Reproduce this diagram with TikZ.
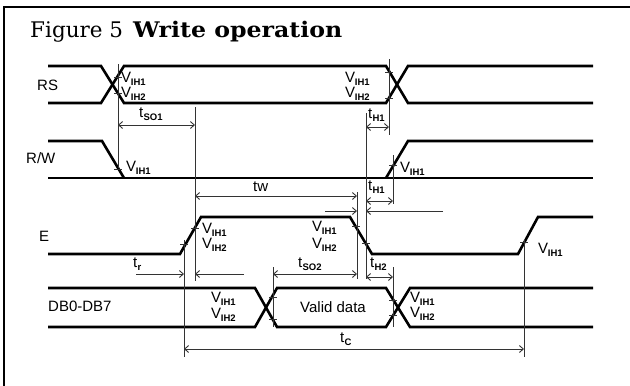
\documentclass[tikz,border=0pt]{standalone}
\usepackage{fontspec}
\setmainfont{Liberation Sans}
\newfontfamily\mytitlefont{DejaVu Serif}
\usetikzlibrary{arrows.meta}
\newcommand{\myVih}[1]{V\kern-0.3pt\raisebox{-3.8pt}{\fontsize{9.5}{9.5}\selectfont\bfseries IH#1}}
\newcommand{\myTsub}[1]{t\kern0.2pt\raisebox{-3.8pt}{\fontsize{9.5}{9.5}\selectfont\bfseries #1}}
\newcommand{\mytick}[2]{\draw[tickln] ({#1-4},#2) -- ({#1+4},#2);}
\begin{document}
\begin{tikzpicture}[x=1pt,y=-1pt,
  sig/.style={line width=2.6pt},
  refln/.style={line width=0.9pt, draw=black!80},
  tickln/.style={line width=0.9pt, draw=black!80},
  dimln/.style={line width=0.9pt, draw=black!80},
  bar/.tip={Straight Barb[length=4pt,width=7pt]},
  lbl/.style={anchor=base west, inner sep=0pt, font=\fontsize{15}{15}\selectfont},
  ttl/.style={anchor=base west, inner sep=0pt, font=\mytitlefont\fontsize{21.5}{21.5}\selectfont}]
\useasboundingbox (0,0) rectangle (630,386);
% frame
\draw[line width=2pt] (4,386) -- (4,7) -- (630,7);
\node[ttl] (t1) at (30,37) {Figure 5};
\node[ttl] (t2) at (133,37) {\scalebox{1.1}[1]{\bfseries Write operation}};
% signal names
\node[lbl] (nRS) at (37,90) {RS};
\node[lbl] (nRW) at (26,163) {R/W};
\node[lbl] (nE) at (39,241) {E};
\node[lbl] (nDB) at (48,311) {DB0-DB7};
% RS
\draw[sig] (48,66) -- (101,66) -- (124,103) -- (386,103) -- (408,66) -- (593,66);
\draw[sig] (48,103) -- (101,103) -- (124,66) -- (386,66) -- (408,103) -- (593,103);
% R/W
\draw[sig] (48,141) -- (102,141) -- (124,178);
\draw[sig] (48,178) -- (593,178);
\draw[sig] (386,178) -- (408,141) -- (593,141);
% E
\draw[sig] (48,254) -- (180,254) -- (201,217) -- (350,217) -- (372,254) -- (518,254) -- (538,217) -- (593,217);
% DB
\draw[sig] (48,288) -- (255,288) -- (277,327) -- (386,327) -- (410,288) -- (593,288);
\draw[sig] (48,327) -- (255,327) -- (277,288) -- (386,288) -- (410,327) -- (593,327);
% reference lines
\draw[refln] (118,64) -- (118,168);
\draw[refln] (389,59) -- (389,135);
\draw[refln] (366,113) -- (366,279);
\draw[refln] (195,107) -- (195,281);
\draw[refln] (393,155) -- (393,204);
\draw[refln] (357,192) -- (357,279);
\draw[refln] (184,240) -- (184,357);
\draw[refln] (524,240) -- (524,357);
\draw[refln] (273,267) -- (273,327);
\draw[refln] (393,267) -- (393,327);
% ticks
\mytick{118}{77} \mytick{118}{93}
\mytick{389}{72} \mytick{389}{98}
\mytick{118}{169}
\mytick{393}{165}
\mytick{195}{228} \mytick{184}{244}
\mytick{356}{226} \mytick{366}{243}
\mytick{524}{242}
\mytick{273}{297} \mytick{273}{319}
\mytick{393}{300} \mytick{393}{315}
% dimension arrows
\draw[dimln, bar-bar] (118,125) -- (195,125);
\draw[dimln, bar-bar] (366,127) -- (389,127);
\draw[dimln, bar-bar] (195,196) -- (357,196);
\draw[dimln, bar-bar] (366,201) -- (393,201);
\draw[dimln, -bar] (325,211) -- (357,211);
\draw[dimln, -bar] (443,211) -- (366,211);
\draw[dimln, -bar] (136,274) -- (184,274);
\draw[dimln, -bar] (244,274) -- (195,274);
\draw[dimln, bar-bar] (273,274) -- (357,274);
\draw[dimln, bar-bar] (366,277) -- (393,277);
\draw[dimln, bar-bar] (184,349) -- (524,349);
% V labels
\node[lbl] (v1) at (121,82) {\myVih{1}};
\node[lbl] (v2) at (121,97) {\myVih{2}};
\node[lbl] (v3) at (345,82) {\myVih{1}};
\node[lbl] (v4) at (345,97) {\myVih{2}};
\node[lbl] (v5) at (126,171) {\myVih{1}};
\node[lbl] (v6) at (400,172) {\myVih{1}};
\node[lbl] (v7) at (202,233) {\myVih{1}};
\node[lbl] (v8) at (202,248) {\myVih{2}};
\node[lbl] (v9) at (312,231) {\myVih{1}};
\node[lbl] (v10) at (312,248) {\myVih{2}};
\node[lbl] (v11) at (538,253) {\myVih{1}};
\node[lbl] (v12) at (211,302) {\myVih{1}};
\node[lbl] (v13) at (211,318) {\myVih{2}};
\node[lbl] (v14) at (410,302) {\myVih{1}};
\node[lbl] (v15) at (410,317) {\myVih{2}};
% time labels
\node[lbl] (tso1) at (139,117) {\myTsub{SO1}};
\node[lbl] (th1a) at (368,118) {\myTsub{H1}};
\node[lbl] (tw) at (253,191) {tw};
\node[lbl] (th1b) at (368,190) {\myTsub{H1}};
\node[lbl] (tr) at (133,267) {\myTsub{r}};
\node[lbl] (tso2) at (298,267) {\myTsub{SO2}};
\node[lbl] (th2) at (370,267) {\myTsub{H2}};
\node[lbl] (tc) at (340,342) {\myTsub{C}};
\node[lbl] (vd) at (300,312) {Valid data};
\end{tikzpicture}
\end{document}
